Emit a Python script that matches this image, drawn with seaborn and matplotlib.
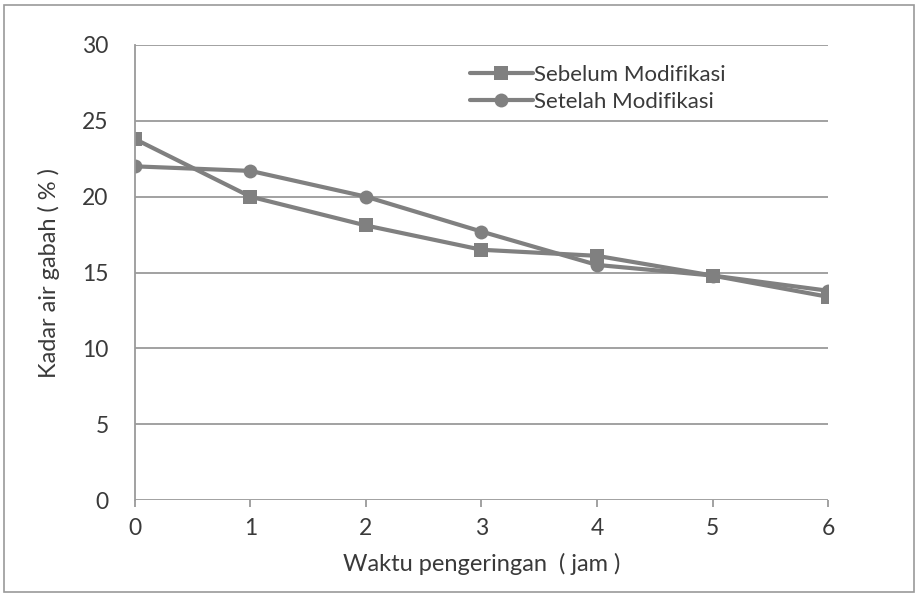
import matplotlib
matplotlib.use("Agg")
import matplotlib.pyplot as plt
import seaborn as sns
import pandas as pd
from matplotlib.patches import Rectangle

jam = [0, 1, 2, 3, 4, 5, 6]
sebelum = [23.8, 20.0, 18.1, 16.5, 16.1, 14.8, 13.4]
setelah = [22.0, 21.7, 20.0, 17.7, 15.5, 14.8, 13.8]
seri = ["Sebelum Modifikasi", "Setelah Modifikasi"]
y_ticks = [0, 5, 10, 15, 20, 25, 30]

df = pd.DataFrame({
    "jam": jam * 2,
    "kadar": sebelum + setelah,
    "seri": [seri[0]] * len(jam) + [seri[1]] * len(jam),
})

sns.set_style("white")
plt.rcParams["font.family"] = ["Lato", "DejaVu Sans"]
text_col = "#3a3a3a"
line_col = "#808080"

fig = plt.figure(figsize=(9.18, 5.96), dpi=100)
ax = fig.add_axes([0.147, 0.161, 0.755, 0.7635])

sns.lineplot(data=df, x="jam", y="kadar", hue="seri", style="seri",
             palette=[line_col, line_col], markers=["s", "o"], dashes=False,
             linewidth=3, markersize=10, markeredgewidth=0, ax=ax)

ax.set_xlim(0, 6)
ax.set_ylim(0, 30)
ax.set_xticks(jam)
ax.set_yticks(y_ticks)
ax.yaxis.grid(True, color="#9a9a9a", linewidth=1.3)
ax.set_axisbelow(True)
for s in ["top", "right", "bottom"]:
    ax.spines[s].set_visible(False)
ax.spines["left"].set_color("#9a9a9a")
ax.spines["left"].set_linewidth(1.3)
ax.tick_params(axis="y", length=9, width=1.3, color="#9a9a9a", labelsize=16.5,
               labelcolor=text_col, pad=10)
ax.tick_params(axis="x", length=5, width=1.3, color="#9a9a9a", labelsize=16.5,
               labelcolor=text_col, pad=8, direction="out", bottom=True)
ax.set_xlabel("Waktu pengeringan  ( jam )", fontsize=17, color=text_col, labelpad=10)
ax.set_ylabel("Kadar air gabah ( % )", fontsize=17, color=text_col, labelpad=16)

leg = ax.legend(loc="upper left", bbox_to_anchor=(0.455, 1.0), frameon=False,
                fontsize=16, handlelength=2.8, handletextpad=0.05, labelspacing=0.3)
for t in leg.get_texts():
    t.set_color(text_col)

fig.patches.append(Rectangle((0.004, 0.006), 0.992, 0.985, transform=fig.transFigure,
                             fill=False, edgecolor="#9a9a9a", linewidth=1.2))

fig.savefig("out.png", dpi=100, facecolor="white")
